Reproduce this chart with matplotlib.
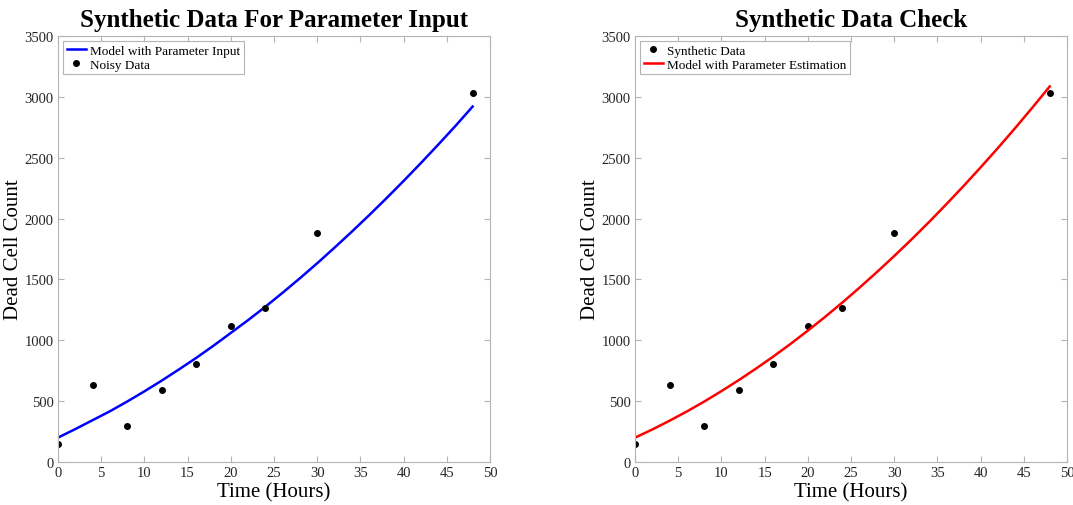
import matplotlib
matplotlib.use('Agg')
import matplotlib.pyplot as plt

plt.rcParams['font.family'] = ['Liberation Serif', 'DejaVu Serif']

# noisy / synthetic data points
t_data = [0, 4, 8, 12, 16, 20, 24, 30, 48]
count_data = [148, 633, 296, 592, 805, 1117, 1265, 1885, 3030]

# model curves (every 2 hours)
t_model = [0, 2, 4, 6, 8, 10, 12, 14, 16, 18, 20, 22, 24,
           26, 28, 30, 32, 34, 36, 38, 40, 42, 44, 46, 48]
model_input = [200, 270, 343, 416, 496, 580, 668, 760, 855, 955, 1060, 1165, 1275,
               1390, 1509, 1632, 1760, 1891, 2026, 2165, 2308, 2455, 2606, 2760, 2920]
model_estim = [200, 267, 339, 415, 496, 582, 672, 767, 866, 970, 1079, 1192, 1310,
               1433, 1560, 1692, 1828, 1969, 2115, 2265, 2420, 2579, 2743, 2912, 3085]

xticks = [0, 5, 10, 15, 20, 25, 30, 35, 40, 45, 50]
yticks = [0, 500, 1000, 1500, 2000, 2500, 3000, 3500]

spine_col = '#b4b4b4'
tick_col = '#262626'

fig = plt.figure(figsize=(10.73, 5.06), dpi=100)
ax1 = fig.add_axes([0.054, 0.085, 0.4026, 0.842])
ax2 = fig.add_axes([0.5918, 0.085, 0.4026, 0.842])


def style_axes(ax, title):
    ax.set_xlim(0, 50)
    ax.set_ylim(0, 3500)
    ax.set_xticks(xticks)
    ax.set_yticks(yticks)
    ax.tick_params(direction='in', top=True, right=True, length=4,
                   color=spine_col, labelcolor=tick_col, labelsize=10.5, pad=3)
    for s in ax.spines.values():
        s.set_color(spine_col)
        s.set_linewidth(0.8)
    ax.set_xlabel('Time (Hours)', fontsize=15, labelpad=2)
    ax.set_ylabel('Dead Cell Count', fontsize=15, labelpad=1)
    ax.set_title(title, fontsize=18, fontweight='bold', pad=7)


ax1.plot(t_model, model_input, color='#0000ff', lw=1.8, label='Model with Parameter Input')
ax1.plot(t_data, count_data, 'o', color='black', ms=4, label='Noisy Data')
style_axes(ax1, 'Synthetic Data For Parameter Input')

ax2.plot(t_data, count_data, 'o', color='black', ms=4, label='Synthetic Data')
ax2.plot(t_model, model_estim, color='#ff0000', lw=1.8, label='Model with Parameter Estimation')
style_axes(ax2, 'Synthetic Data Check')

for ax in (ax1, ax2):
    leg = ax.legend(loc='upper left', fontsize=9.5, fancybox=False, framealpha=1,
                    borderpad=0.25, handlelength=1.5, handletextpad=0.3,
                    labelspacing=0.15, borderaxespad=0.4)
    leg.get_frame().set_edgecolor(spine_col)
    leg.get_frame().set_linewidth(0.8)

fig.savefig('out.png', dpi=100)
